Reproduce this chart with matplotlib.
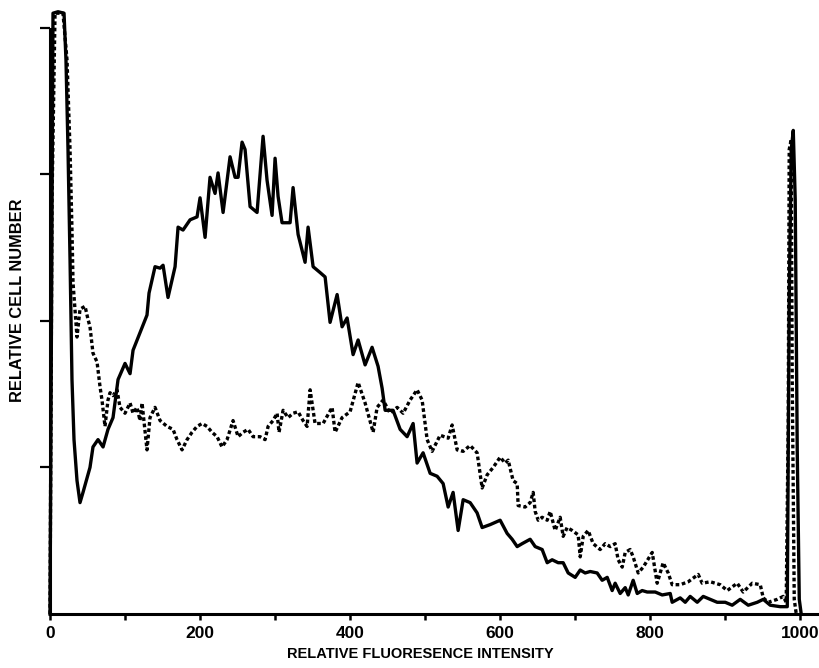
import matplotlib
matplotlib.use("Agg")
import matplotlib.pyplot as plt

plt.rcParams['font.family'] = ['Liberation Sans', 'DejaVu Sans']

# curva continua (histograma 1)
solid_x = [0, 2.7, 4, 10.7, 18.7, 21.3, 24, 26.7, 29.3, 32, 36, 40, 44, 53.3, 57.3, 64, 70.7, 77.3,
           84, 90.7, 100, 106.7, 110.7, 120, 129.3, 132, 140, 146.7, 150.7, 157.3, 166.7, 170.7,
           177.3, 186.7, 196, 200, 206.7, 213.3, 220, 224, 230.7, 240, 246.7, 250.7, 256, 260,
           266.7, 276, 284, 289.3, 296, 300, 304, 309.3, 320, 324, 330.7, 340, 344, 350.7, 360,
           366.7, 373.3, 382.7, 389.3, 396, 404, 410.7, 420, 429.3, 437.3, 442.7, 446.7, 457.3,
           466.7, 476, 484, 489.3, 497.3, 506.7, 516, 524, 530.7, 537.3, 544, 550.7, 560, 569.3,
           576, 586.7, 600, 609.3, 616, 622.7, 629.3, 640, 646.7, 656, 662.7, 669.3, 677.3, 684,
           690.7, 700, 706.7, 713.3, 720, 729.3, 736, 742.7, 749.3, 753.3, 760, 766.7, 770.7,
           777.3, 782.7, 789.3, 796, 806.7, 816, 826.7, 829.3, 840, 846.7, 853.3, 862.7, 870.7,
           880, 889.3, 900, 909.3, 920, 930.7, 942.7, 950.7, 960, 973.3, 982.7, 985.3, 988,
           990.7, 993.3, 996, 998.7, 1001.3]
solid_y = [0, 2.83, 4.10, 4.11, 4.10, 3.78, 3.17, 2.42, 1.60, 1.19, 0.91, 0.76, 0.83, 1.00, 1.14,
           1.19, 1.14, 1.26, 1.34, 1.60, 1.71, 1.64, 1.80, 1.92, 2.04, 2.19, 2.37, 2.36, 2.38,
           2.16, 2.37, 2.64, 2.62, 2.69, 2.71, 2.84, 2.57, 2.98, 2.87, 3.01, 2.74, 3.12, 2.98,
           2.98, 3.22, 3.17, 2.78, 2.74, 3.26, 2.96, 2.72, 3.11, 2.85, 2.67, 2.67, 2.91, 2.59,
           2.40, 2.64, 2.37, 2.33, 2.30, 1.99, 2.18, 1.96, 2.02, 1.77, 1.87, 1.70, 1.82, 1.69,
           1.54, 1.39, 1.39, 1.26, 1.21, 1.30, 1.03, 1.10, 0.96, 0.94, 0.89, 0.73, 0.83, 0.57,
           0.78, 0.76, 0.69, 0.59, 0.61, 0.64, 0.55, 0.51, 0.46, 0.48, 0.51, 0.46, 0.44, 0.35,
           0.37, 0.35, 0.35, 0.28, 0.25, 0.30, 0.28, 0.29, 0.28, 0.23, 0.25, 0.16, 0.21, 0.14,
           0.18, 0.13, 0.23, 0.14, 0.16, 0.15, 0.15, 0.13, 0.14, 0.08, 0.11, 0.08, 0.12, 0.08,
           0.12, 0.10, 0.08, 0.08, 0.06, 0.10, 0.06, 0.08, 0.10, 0.06, 0.05, 0.05, 2.14, 3.17,
           3.30, 2.83, 1.12, 0.10, 0]

# curva pontilhada (histograma 2)
dot_x = [0, 2.7, 6.7, 17.3, 22.7, 26.7, 29.3, 30.7, 36, 40, 46.7, 50.7, 53.3, 57.3, 62.7, 66.7,
         69.3, 73.3, 77.3, 80, 84, 89.3, 93.3, 100, 106.7, 110.7, 116, 120, 122.7, 129.3, 133.3,
         140, 146.7, 156, 164, 169.3, 176, 182.7, 189.3, 196, 202.7, 209.3, 216, 222.7, 229.3,
         236, 244, 250.7, 257.3, 264, 270.7, 280, 286.7, 290.7, 297.3, 302.7, 305.3, 310.7,
         317.3, 324, 330.7, 337.3, 342.7, 346.7, 353.3, 364, 376, 380, 389.3, 400, 410.7, 420,
         430.7, 436, 444, 453.3, 462.7, 470.7, 480, 489.3, 496, 502.7, 509.3, 520, 530.7, 536,
         542.7, 550.7, 560, 569.3, 576, 582.7, 590.7, 600, 606.7, 610.7, 617.3, 622.7, 624,
         633.3, 640, 644, 646.7, 650.7, 656, 662.7, 666.7, 673.3, 680, 684, 689.3, 696, 704,
         706.7, 710.7, 717.3, 724, 733.3, 740, 746.7, 753.3, 757.3, 762.7, 766.7, 773.3, 777.3,
         784, 790.7, 802.7, 809.3, 817.3, 824, 829.3, 840, 850.7, 864, 869.3, 880, 893.3, 902.7,
         916, 924, 936, 946.7, 950.7, 957.3, 969.3, 977.3, 981.3, 984, 985.3, 988, 989.3, 992,
         994.7]
dot_y = [0, 2.83, 4.10, 4.10, 3.78, 3.17, 2.62, 2.26, 1.89, 2.08, 2.10, 2.01, 1.96, 1.78, 1.72,
         1.55, 1.46, 1.28, 1.46, 1.51, 1.49, 1.53, 1.41, 1.37, 1.44, 1.37, 1.41, 1.32, 1.44, 1.12,
         1.34, 1.41, 1.32, 1.28, 1.26, 1.19, 1.12, 1.19, 1.24, 1.28, 1.30, 1.28, 1.24, 1.21, 1.14,
         1.19, 1.32, 1.21, 1.24, 1.26, 1.21, 1.21, 1.19, 1.28, 1.32, 1.37, 1.24, 1.39, 1.34, 1.37,
         1.38, 1.32, 1.28, 1.53, 1.30, 1.30, 1.41, 1.24, 1.34, 1.38, 1.58, 1.44, 1.24, 1.41, 1.46,
         1.37, 1.41, 1.37, 1.46, 1.53, 1.46, 1.19, 1.11, 1.22, 1.20, 1.29, 1.12, 1.11, 1.15, 1.10,
         0.86, 0.95, 1.00, 1.07, 1.03, 1.05, 0.91, 0.89, 0.74, 0.73, 0.76, 0.83, 0.70, 0.64, 0.66,
         0.64, 0.70, 0.57, 0.66, 0.53, 0.59, 0.57, 0.54, 0.39, 0.53, 0.57, 0.48, 0.44, 0.48, 0.46,
         0.48, 0.37, 0.32, 0.42, 0.44, 0.39, 0.28, 0.32, 0.42, 0.21, 0.35, 0.28, 0.20, 0.20, 0.22,
         0.27, 0.21, 0.22, 0.20, 0.16, 0.21, 0.15, 0.21, 0.20, 0.11, 0.08, 0.10, 0.12, 0.08, 1.32,
         3.17, 3.24, 1.60, 0.10, 0]

x_major = [0, 200, 400, 600, 800, 1000]
x_minor = [100, 300, 500, 700, 900]
y_ticks = [1, 2, 3, 4]

fig = plt.figure(figsize=(8.19, 6.68), dpi=100)
ax = fig.add_axes([50 / 819, 54 / 668, 769 / 819, 614 / 668])

ax.plot(solid_x, solid_y, color='black', lw=2.4, solid_joinstyle='round', clip_on=False)
ax.plot(dot_x, dot_y, color='black', lw=2.4, linestyle=(0, (1.1, 0.8)), clip_on=False)

ax.set_xlim(0, 1025)
ax.set_ylim(0, 4.19)

for s in ['top', 'right']:
    ax.spines[s].set_visible(False)
ax.spines['left'].set_bounds(0, 3.99)
ax.spines['left'].set_linewidth(2.2)
ax.spines['bottom'].set_linewidth(2.2)

ax.set_xticks(x_major)
ax.set_xticks(x_minor, minor=True)
ax.set_xticklabels([str(v) for v in x_major], fontsize=12.5, fontweight='bold')
ax.tick_params(axis='x', which='both', direction='out', length=4, width=1.8, pad=5)
ax.set_yticks(y_ticks)
ax.set_yticklabels([])
ax.tick_params(axis='y', direction='out', length=7, width=1.6)

fig.text(0.513, 0.01, 'RELATIVE FLUORESENCE INTENSITY', ha='center', va='bottom',
         fontsize=10.5, fontweight='bold')
fig.text(0.021, 0.55, 'RELATIVE CELL NUMBER', rotation=90, ha='center', va='center',
         fontsize=11.8, fontweight='bold')

fig.savefig('out.png', dpi=100, facecolor='white')
